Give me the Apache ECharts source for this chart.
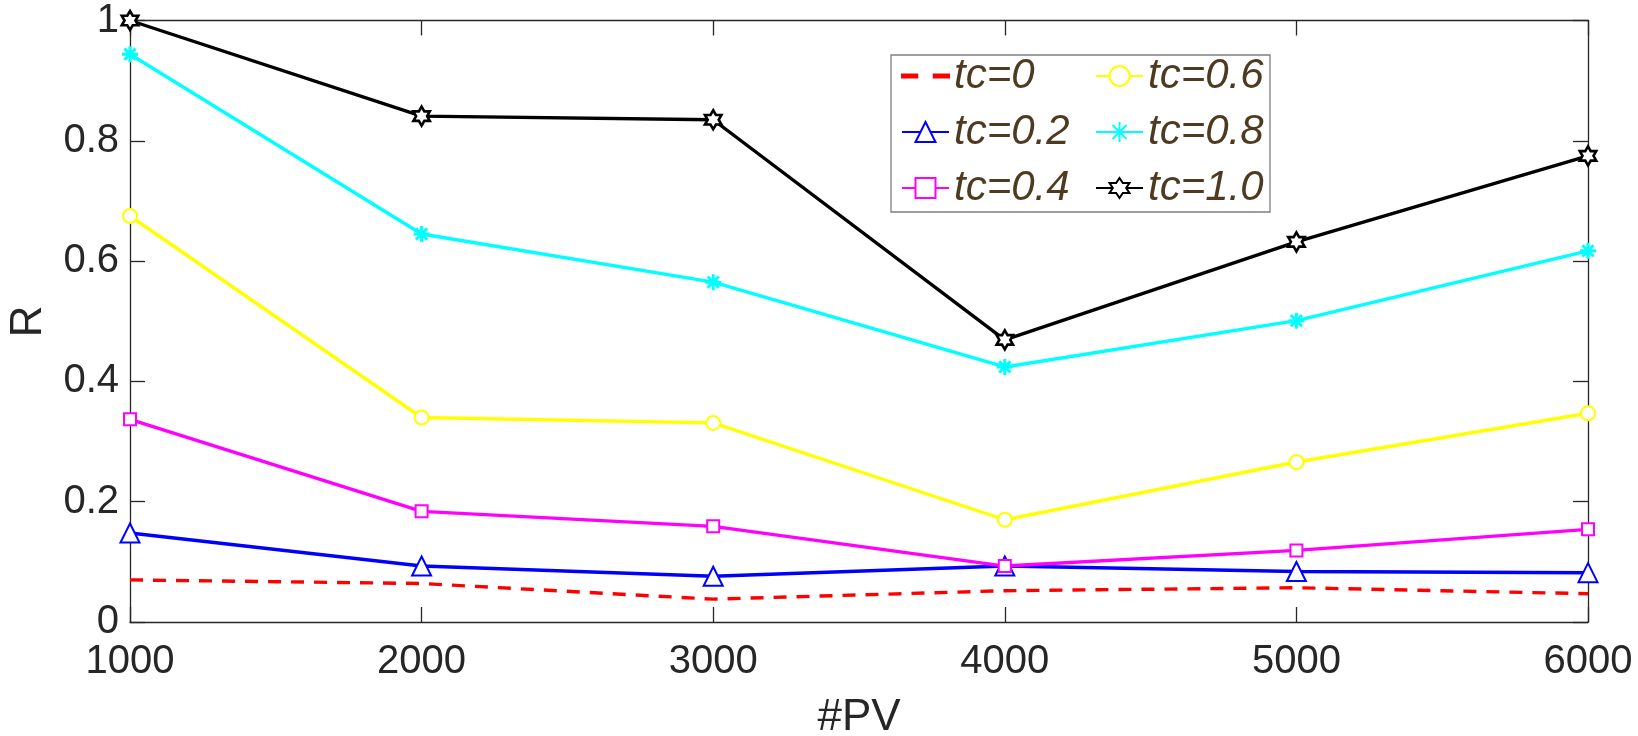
<!DOCTYPE html>
<html>
<head>
<meta charset="utf-8">
<script src="https://cdn.jsdelivr.net/npm/echarts@6/dist/echarts.min.js"></script>
<style>
  html, body { margin: 0; padding: 0; background: #fff; }
  #chart { width: 1638px; height: 736px; }
</style>
</head>
<body>
<div id="chart"></div>
<script>
// x values (#PV)
const pv = [1000, 2000, 3000, 4000, 5000, 6000];

// R for each tc
const tc00 = [0.070, 0.064, 0.038, 0.052, 0.057, 0.047];
const tc02 = [0.148, 0.093, 0.076, 0.093, 0.084, 0.082];
const tc04 = [0.337, 0.184, 0.159, 0.093, 0.119, 0.154];
const tc06 = [0.675, 0.340, 0.331, 0.170, 0.266, 0.347];
const tc08 = [0.944, 0.645, 0.565, 0.424, 0.501, 0.617];
const tc10 = [1.000, 0.841, 0.835, 0.469, 0.632, 0.775];

const seriesNames = ["tc=0", "tc=0.2", "tc=0.4", "tc=0.6", "tc=0.8", "tc=1.0"];

const FONT = "'Liberation Sans', Arial, Helvetica, sans-serif";
const AXIS_COLOR = "#262626";
const LW = 3.4;

// marker shapes
const HEXAGRAM = "path://M50,0L64.43,25L93.3,25L78.87,50L93.3,75L64.43,75L50,100L35.57,75L6.7,75L21.13,50L6.7,25L35.57,25Z";
const ASTERISK = "path://M50,0L50,100M0,50L100,50M15,15L85,85M85,15L15,85";
const DASH_ICON = "path://M0,0L12,0L12,2.5L0,2.5Z M25,0L37,0L37,2.5L25,2.5Z";

const chart = echarts.init(document.getElementById("chart"));

function toPairs(vals) {
  return pv.map((x, i) => [x, vals[i]]);
}

function lineSeries(name, vals, color, extra) {
  return Object.assign({
    name: name,
    type: "line",
    data: toPairs(vals),
    clip: false,
    lineStyle: { color: color, width: LW },
    itemStyle: { color: color, borderColor: color, borderWidth: 2.6 },
    emphasis: { disabled: true },
    z: 2,
  }, extra);
}

const series = [
  lineSeries(seriesNames[0], tc00, "#ff0000", {
    symbol: "none",
    lineStyle: { color: "#ff0000", width: LW, type: [13, 10] },
  }),
  lineSeries(seriesNames[1], tc02, "#0000ff", { symbol: "emptyTriangle", symbolSize: 19 }),
  lineSeries(seriesNames[2], tc04, "#ff00ff", { symbol: "emptyRect", symbolSize: 12 }),
  lineSeries(seriesNames[3], tc06, "#ffff00", { symbol: "emptyCircle", symbolSize: 14 }),
  lineSeries(seriesNames[4], tc08, "#00ffff", {
    symbol: ASTERISK, symbolSize: 16,
    itemStyle: { color: "#00ffff", borderColor: "#00ffff", borderWidth: 3 },
  }),
  lineSeries(seriesNames[5], tc10, "#000000", {
    symbol: HEXAGRAM, symbolSize: 19, symbolKeepAspect: true,
    itemStyle: { color: "#ffffff", borderColor: "#000000", borderWidth: 2.6 },
  }),
];

const legendBase = {
  orient: "vertical",
  top: 50,
  itemWidth: 47,
  itemHeight: 25,
  itemGap: 14,
  textStyle: {
    fontFamily: FONT,
    fontSize: 42,
    fontStyle: "italic",
    color: "#4e3a20",
    lineHeight: 40,
  },
  selectedMode: false,
  z: 5,
};

chart.setOption({
  animation: false,
  backgroundColor: "#ffffff",
  grid: { left: 130, right: 50, top: 20.5, bottom: 114, containLabel: false, outerBoundsMode: "none" },
  legend: [
    Object.assign({}, legendBase, {
      left: 896,
      data: [{ name: seriesNames[0], icon: DASH_ICON }, seriesNames[1], seriesNames[2]],
    }),
    Object.assign({}, legendBase, { left: 1090, data: seriesNames.slice(3, 6) }),
  ],
  graphic: [{
    type: "rect",
    z: 3,
    shape: { x: 891, y: 55, width: 379, height: 157 },
    style: { fill: "#ffffff", stroke: "#7f7f7f", lineWidth: 1.3 },
  }],
  xAxis: [{
    type: "value",
    min: 1000, max: 6000, interval: 1000,
    name: "#PV",
    nameLocation: "middle",
    nameGap: 74,
    nameTextStyle: { fontFamily: FONT, fontSize: 44, color: AXIS_COLOR },
    axisLine: { show: true, lineStyle: { color: AXIS_COLOR, width: 1.3 } },
    axisTick: { show: true, inside: true, length: 15, lineStyle: { color: AXIS_COLOR, width: 1.3 } },
    axisLabel: { fontFamily: FONT, fontSize: 40, color: AXIS_COLOR, margin: 20, formatter: v => String(v) },
    splitLine: { show: false },
  }, {
    type: "value",
    position: "top",
    min: 1000, max: 6000, interval: 1000,
    axisLine: { show: true, onZero: false, lineStyle: { color: AXIS_COLOR, width: 1.3 } },
    axisTick: { show: true, inside: true, length: 15, lineStyle: { color: AXIS_COLOR, width: 1.3 } },
    axisLabel: { show: false },
    splitLine: { show: false },
  }],
  yAxis: [{
    type: "value",
    min: 0, max: 1, interval: 0.2,
    name: "R",
    nameLocation: "middle",
    nameGap: 79,
    nameTextStyle: { fontFamily: FONT, fontSize: 44, color: AXIS_COLOR },
    axisLine: { show: true, lineStyle: { color: AXIS_COLOR, width: 1.3 } },
    axisTick: { show: true, inside: true, length: 15, lineStyle: { color: AXIS_COLOR, width: 1.3 } },
    axisLabel: { fontFamily: FONT, fontSize: 40, color: AXIS_COLOR, margin: 11 },
    splitLine: { show: false },
  }, {
    type: "value",
    position: "right",
    min: 0, max: 1, interval: 0.2,
    axisLine: { show: true, onZero: false, lineStyle: { color: AXIS_COLOR, width: 1.3 } },
    axisTick: { show: true, inside: true, length: 15, lineStyle: { color: AXIS_COLOR, width: 1.3 } },
    axisLabel: { show: false },
    splitLine: { show: false },
  }],
  series: series,
});
</script>
</body>
</html>
